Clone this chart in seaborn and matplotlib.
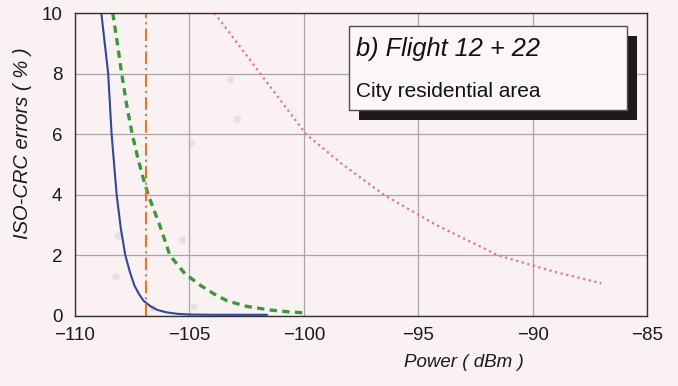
import pandas as pd
import matplotlib.pyplot as plt
import seaborn as sns
from matplotlib.ticker import MultipleLocator

# Curves
blue_x = [-108.85, -108.7, -108.55, -108.4, -108.18, -108.0, -107.8, -107.6, -107.4,
          -107.2, -107.0, -106.7, -106.4, -106.0, -105.5, -105.0, -104.0, -103.0, -101.6]
blue_y = [10.0, 9.0, 8.0, 6.0, 4.0, 2.9, 2.0, 1.45, 1.0,
          0.72, 0.5, 0.32, 0.2, 0.12, 0.07, 0.05, 0.04, 0.04, 0.04]

green_x = [-108.35, -108.15, -107.96, -107.75, -107.5, -107.25, -107.0, -106.8, -106.3,
           -105.85, -105.2, -104.5, -103.9, -103.35, -102.5, -101.5, -100.7, -99.9]
green_y = [10.0, 9.0, 8.0, 7.0, 6.0, 5.2, 4.5, 4.0, 3.0,
           2.0, 1.4, 1.0, 0.72, 0.5, 0.32, 0.2, 0.14, 0.1]

pink_x = [-103.9, -102.9, -101.9, -100.9, -99.9, -98.3, -96.5, -94.2, -91.5, -89.0, -87.0]
pink_y = [10.0, 9.0, 8.0, 7.0, 6.0, 5.0, 4.0, 3.0, 2.0, 1.45, 1.08]

threshold_x = -106.9

# faded measurement points visible in the scan
faint_x = [-108.1, -108.2, -105.3, -104.9, -102.9, -103.2, -106.6, -104.8]
faint_y = [2.65, 1.3, 2.5, 5.7, 6.5, 7.8, 0.25, 0.3]

bg = '#faf1f3'

sns.set_theme(style='white')
plt.rcParams['font.family'] = ['Liberation Sans', 'DejaVu Sans']

fig, ax = plt.subplots(figsize=(6.78, 3.86), dpi=100)
fig.patch.set_facecolor(bg)
ax.set_facecolor(bg)

df_blue = pd.DataFrame({'x': blue_x, 'y': blue_y})
df_green = pd.DataFrame({'x': green_x, 'y': green_y})
df_pink = pd.DataFrame({'x': pink_x, 'y': pink_y})

ax.grid(True, color='#a9a4a6', linewidth=0.9)
ax.set_axisbelow(True)

sns.scatterplot(x=faint_x, y=faint_y, ax=ax, color='#c8c0d8', s=28, alpha=0.35,
                edgecolor='none', zorder=1)
sns.lineplot(data=df_pink, x='x', y='y', ax=ax, color='#e8708c', linestyle=(0, (1, 1.6)),
             linewidth=1.6, sort=False)
sns.lineplot(data=df_green, x='x', y='y', ax=ax, color='#3a9a3a', linestyle=(0, (2.2, 1.6)),
             linewidth=2.4, sort=False)
sns.lineplot(data=df_blue, x='x', y='y', ax=ax, color='#34469a', linewidth=1.5, sort=False)
ax.axvline(threshold_x, color='#e2782a', linestyle=(0, (6, 2, 1, 2)), linewidth=1.5)

ax.set_xlim(-110, -85)
ax.set_ylim(0, 10)
ax.xaxis.set_major_locator(MultipleLocator(5))
ax.yaxis.set_major_locator(MultipleLocator(2))
ax.xaxis.set_minor_locator(MultipleLocator(1))
ax.yaxis.set_minor_locator(MultipleLocator(0.5))
ax.set_xticklabels([f'\u2212{abs(int(v))}' for v in ax.get_xticks()])
ax.tick_params(axis='both', which='both', direction='in', colors='#888080',
               labelcolor='#1a1a1a', labelsize=13.5)
ax.tick_params(which='major', length=0)
ax.tick_params(which='minor', length=3)
ax.tick_params(axis='x', which='major', pad=8)
ax.tick_params(axis='y', which='major', pad=9)

for s in ax.spines.values():
    s.set_color('#303030')
    s.set_linewidth(1.0)

ax.set_xlabel('Power ( dBm )', fontstyle='italic', fontsize=13.5, color='#1a1a1a')
ax.set_ylabel('ISO-CRC errors ( % )', fontstyle='italic', fontsize=14.5, color='#1a1a1a')
ax.xaxis.set_label_coords(0.68, -0.125)
ax.yaxis.set_label_coords(-0.075, 0.57)

# label box with drop shadow (axes fraction coords)
x0, y1 = (349 - 75) / 572, (316 - 26) / 303
w, h = (627 - 349) / 572, (110 - 26) / 303
ax.add_patch(plt.Rectangle((x0 + 0.017, y1 - h - 0.033), w, h, transform=ax.transAxes,
                           facecolor='#1e1a1c', edgecolor='none', zorder=5))
ax.add_patch(plt.Rectangle((x0, y1 - h), w, h, transform=ax.transAxes,
                           facecolor='#fbf6f7', edgecolor='#505050', linewidth=1.0, zorder=6))
ax.text(x0 + 0.013, (316 - 56) / 303, 'b) Flight 12 + 22', transform=ax.transAxes,
        fontsize=18.3, fontstyle='italic', va='baseline', ha='left', color='#111111', zorder=7)
ax.text(x0 + 0.013, (316 - 97) / 303, 'City residential area', transform=ax.transAxes,
        fontsize=15, va='baseline', ha='left', color='#111111', zorder=7)

plt.subplots_adjust(left=75 / 678, right=647 / 678, top=1 - 13 / 386, bottom=1 - 316 / 386)
plt.savefig('out.png', dpi=100, facecolor=bg)
plt.close()
